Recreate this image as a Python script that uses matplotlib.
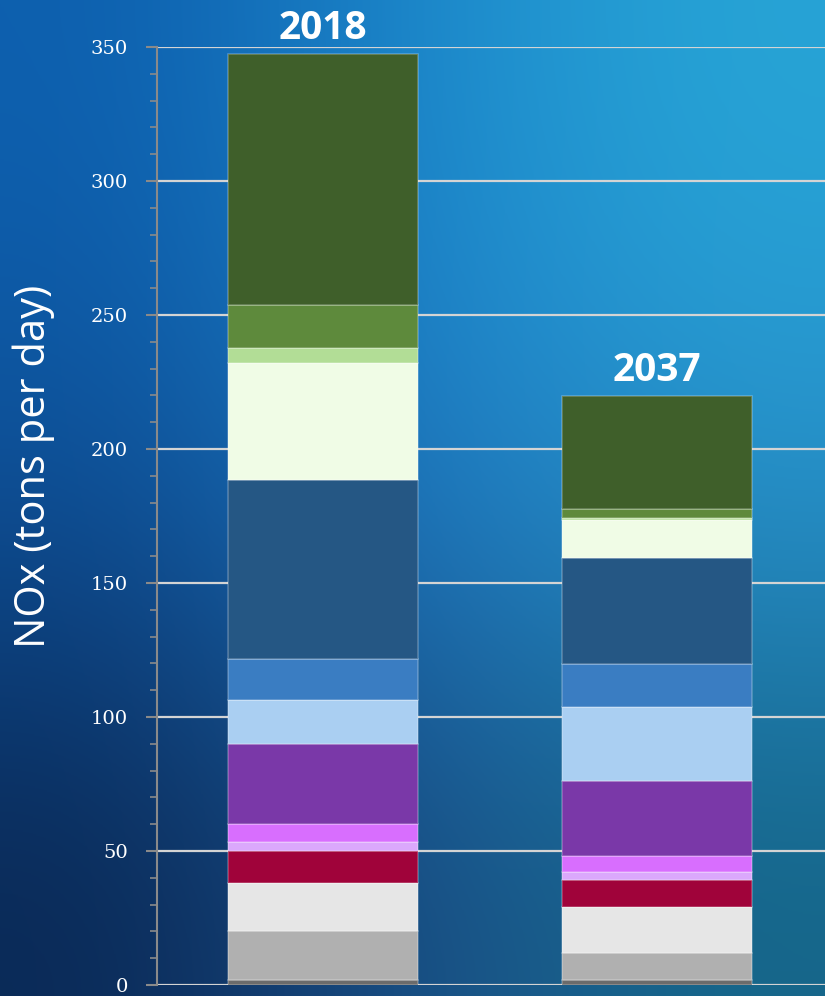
import numpy as np
import matplotlib
matplotlib.use('Agg')
import matplotlib.pyplot as plt
from matplotlib.ticker import MultipleLocator

#------------------------------------------------------------------------------
# Data (tons per day)
#------------------------------------------------------------------------------
years = ['2018', '2037']
sources = ['Other', 'Area A', 'Area B', 'Off-road A', 'Off-road B', 'Off-road C',
           'Off-road D', 'On-road A', 'On-road B', 'On-road C', 'Point A',
           'Point B', 'Point C', 'Ships']
values_2018 = [2.0, 18.1, 18.0, 11.9, 3.4, 6.7, 29.8, 16.4, 15.3, 66.8, 43.7, 5.6, 16.0, 93.7]
values_2037 = [2.0, 9.9, 17.2, 9.9, 3.3, 5.8, 28.0, 27.8, 15.7, 39.7, 14.2, 0.6, 3.5, 42.2]
colors = ['#6b6b6b', '#b0b0b0', '#e6e6e6', '#a0033a', '#dba8fc', '#d86efe',
          '#7a38a8', '#aacff2', '#3a7dc2', '#255784', '#f0fce6', '#b2dd96',
          '#5e8a3c', '#3f5f2a']

#------------------------------------------------------------------------------
# Figure + gradient background
#------------------------------------------------------------------------------
fig = plt.figure(figsize=(8.25, 9.96), dpi=100)
bg = fig.add_axes([0, 0, 1, 1], zorder=0)
corners = np.array([
    [[13, 95, 174], [28, 136, 204], [39, 165, 214]],
    [[13, 78, 150], [31, 122, 196], [40, 144, 204]],
    [[10, 40, 84], [27, 79, 136], [21, 102, 136]],
]) / 255.0
bg.imshow(corners, interpolation='bicubic', aspect='auto', extent=[0, 1, 0, 1])
bg.set_axis_off()

ax = fig.add_axes([157/825, 11/996, 668/825, 938/996], zorder=1)
ax.patch.set_alpha(0)

x = np.arange(len(years))
width = 0.569
bottoms = np.zeros(len(years))
for i, name in enumerate(sources):
    h = np.array([values_2018[i], values_2037[i]])
    ax.bar(x, h, width, bottom=bottoms, color=colors[i], label=name,
           edgecolor=(1, 1, 1, 0.25), linewidth=1.2, zorder=3)
    bottoms += h

totals = bottoms
for xi, yr, tot in zip(x, years, totals):
    ax.annotate(yr, (xi, tot), xytext=(0, 4), textcoords='offset points',
                ha='center', va='bottom', color='white', fontsize=28,
                fontweight='bold', family='Open Sans', zorder=5)

ax.set_xlim(-0.497, 1.503)
ax.set_ylim(0, 350)
ax.yaxis.set_major_locator(MultipleLocator(50))
ax.yaxis.set_minor_locator(MultipleLocator(10))
ax.set_xticks([])
ax.grid(axis='y', color='#d4d4d4', linewidth=1.6, zorder=1)
ax.set_axisbelow(True)
for s in ['top', 'right', 'bottom']:
    ax.spines[s].set_visible(False)
ax.spines['left'].set_color('#8a8a8a')
ax.spines['left'].set_linewidth(1.5)
ax.tick_params(axis='y', which='major', length=8, width=1.5, color='#8a8a8a',
               labelcolor='white', labelsize=14, pad=13)
ax.tick_params(axis='y', which='minor', length=5, width=1.2, color='#8a8a8a')
for lab in ax.get_yticklabels():
    lab.set_family('DejaVu Serif')

fig.text(34/825, 530/996, 'NOx (tons per day)', rotation=90, ha='center',
         va='center', color='white', fontsize=30, family='Open Sans')

fig.savefig('out.png', dpi=100)
